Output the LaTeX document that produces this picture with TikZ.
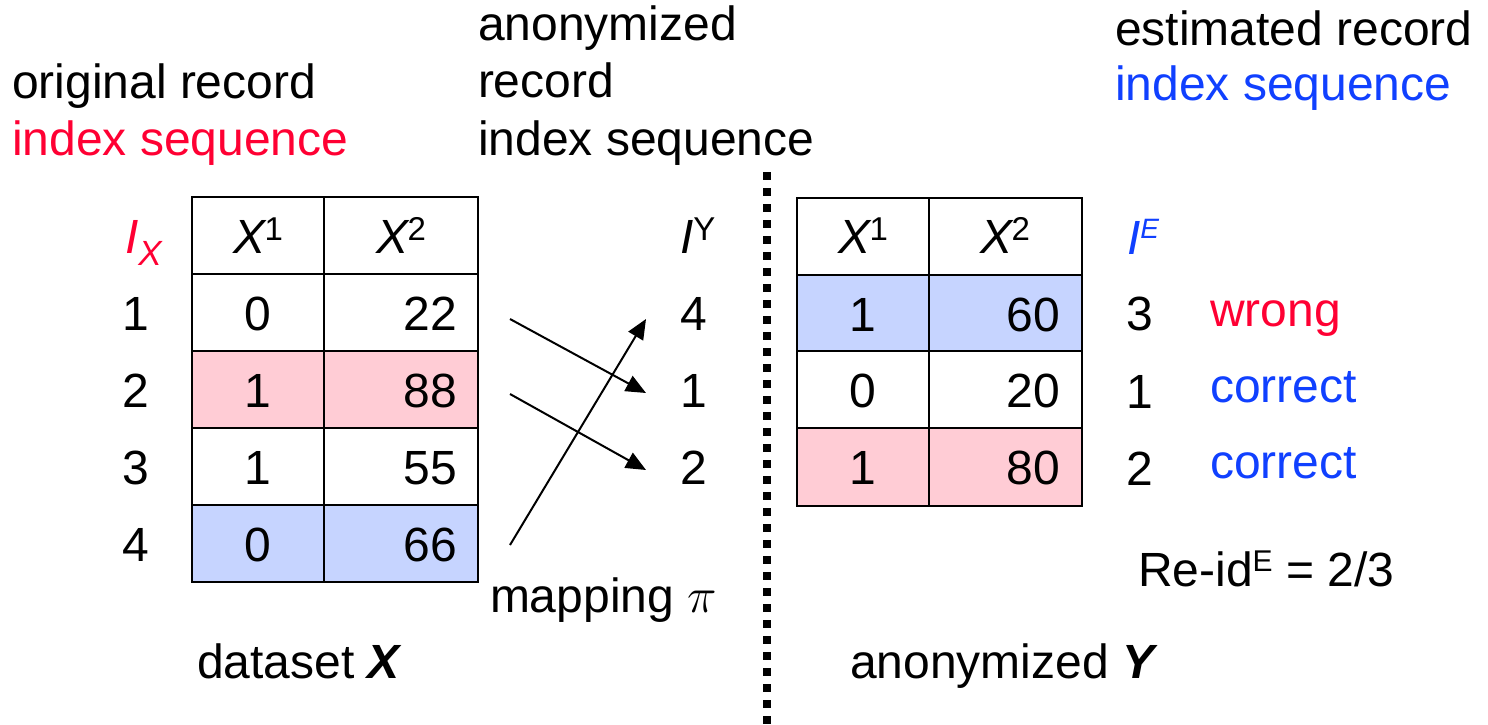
\documentclass[tikz,border=0pt]{standalone}
\usepackage{fontspec}
\setmainfont{Liberation Sans}
\usetikzlibrary{arrows.meta}
\definecolor{idxred}{HTML}{FF0033}
\definecolor{idxblue}{HTML}{1040FF}
\definecolor{cellpink}{HTML}{FFCCD5}
\definecolor{cellblue}{HTML}{C6D4FF}
\newcommand\supfont{\fontsize{16.5}{17}\selectfont}
\newcommand\subfont{\fontsize{17.5}{18}\selectfont}
\newcommand\tinysup{\fontsize{14}{14}\selectfont}
\newcommand\reidsup{\fontsize{15}{15}\selectfont}
\begin{document}
\begin{tikzpicture}[x=0.5pt,y=-0.5pt,
  txt/.style={inner sep=0pt, outer sep=0pt, font=\fontsize{24}{28.5}\selectfont},
  gridline/.style={line width=1.3pt},
  maparrow/.style={line width=1pt, -{Triangle[length=10pt,width=8.5pt]}},
  divider/.style={line width=4pt, dash pattern=on 4pt off 4pt}]
\useasboundingbox[fill=white] (0,0) rectangle (1488,724);

% ---------- headings ----------
\node[txt, anchor=base west] (origA) at (12,98) {original record};
\node[txt, anchor=base west, text=idxred] (origB) at (12,155) {index sequence};
\node[txt, anchor=base west] (anonA) at (478,40) {anonymized};
\node[txt, anchor=base west] (anonB) at (478,97) {record};
\node[txt, anchor=base west] (anonC) at (478,155) {index sequence};
\node[txt, anchor=base west] (estA) at (1115,45) {estimated record};
\node[txt, anchor=base west, text=idxblue] (estB) at (1115,100) {index sequence};

% ---------- left table ----------
\fill[cellpink] (192,351) rectangle (478,428);
\fill[cellblue] (192,505) rectangle (478,582);
\draw[gridline] (192,197) rectangle (478,582);
\foreach \yy in {274,351,428,505} \draw[gridline] (192,\yy) -- (478,\yy);
\draw[gridline] (324,197) -- (324,582);

\node[txt, anchor=base] (lh1) at (258,253) {\textit{X}\kern-1pt\raisebox{6.5pt}{\supfont 1}};
\node[txt, anchor=base] (lh2) at (401,253) {\textit{X}\kern-1pt\raisebox{6.5pt}{\supfont 2}};
\node[txt, anchor=base west, text=idxred] (lix) at (125,253) {\textit{I}\raisebox{-6pt}{\subfont\textit{X}}};

\node[txt, anchor=base] (li1) at (136,330) {1};
\node[txt, anchor=base] (li2) at (136,407) {2};
\node[txt, anchor=base] (li3) at (136,484) {3};
\node[txt, anchor=base] (li4) at (136,561) {4};

\node[txt, anchor=base] (la1) at (258,330) {0};
\node[txt, anchor=base] (la2) at (258,407) {1};
\node[txt, anchor=base] (la3) at (258,484) {1};
\node[txt, anchor=base] (la4) at (258,561) {0};
\node[txt, anchor=base east] (lb1) at (457,330) {22};
\node[txt, anchor=base east] (lb2) at (457,407) {88};
\node[txt, anchor=base east] (lb3) at (457,484) {55};
\node[txt, anchor=base east] (lb4) at (457,561) {66};

\node[txt, anchor=base west] (dsx) at (197,678) {dataset \textbf{\textit{X}}};

% ---------- mapping ----------
\node[txt, anchor=base west] (iy) at (680,253) {\textit{I}\raisebox{6.5pt}{\supfont Y}};
\node[txt, anchor=base] (m4) at (694,330) {4};
\node[txt, anchor=base] (m1) at (694,407) {1};
\node[txt, anchor=base] (m2) at (694,484) {2};

\coordinate (a1s) at (510,319); \coordinate (a1e) at (646,393);
\coordinate (a2s) at (510,394); \coordinate (a2e) at (646,470);
\coordinate (a3s) at (510,545); \coordinate (a3e) at (646,319);
\draw[maparrow] (a1s) -- (a1e);
\draw[maparrow] (a2s) -- (a2e);
\draw[maparrow] (a3s) -- (a3e);

\node[txt, anchor=base west] (mpi) at (490,612) {mapping $\pi$};

% ---------- divider ----------
\coordinate (dtop) at (767,172);
\coordinate (dbot) at (767,724);
\draw[divider] (dtop) -- (dbot);

% ---------- right table ----------
\fill[cellblue] (797,275) rectangle (1082,351);
\fill[cellpink] (797,428) rectangle (1082,506);
\draw[gridline] (797,198) rectangle (1082,506);
\foreach \yy in {275,351,428} \draw[gridline] (797,\yy) -- (1082,\yy);
\draw[gridline] (929,198) -- (929,506);

\node[txt, anchor=base] (rh1) at (863,253) {\textit{X}\kern-1pt\raisebox{6.5pt}{\supfont 1}};
\node[txt, anchor=base] (rh2) at (1005,253) {\textit{X}\kern-1pt\raisebox{6.5pt}{\supfont 2}};

\node[txt, anchor=base] (ra1) at (863,331) {1};
\node[txt, anchor=base] (ra2) at (863,407) {0};
\node[txt, anchor=base] (ra3) at (863,484) {1};
\node[txt, anchor=base east] (rb1) at (1060,331) {60};
\node[txt, anchor=base east] (rb2) at (1060,407) {20};
\node[txt, anchor=base east] (rb3) at (1060,484) {80};

\node[txt, anchor=base west, text=idxblue] (ie) at (1127,254) {\textit{I}\raisebox{8pt}{\tinysup\textit{E}}};
\node[txt, anchor=base] (e3) at (1140,330) {3};
\node[txt, anchor=base] (e1) at (1140,408) {1};
\node[txt, anchor=base] (e2) at (1140,485) {2};
\node[txt, anchor=base west, text=idxred] (w1) at (1210,326) {wrong};
\node[txt, anchor=base west, text=idxblue] (c1) at (1210,402) {correct};
\node[txt, anchor=base west, text=idxblue] (c2) at (1210,478) {correct};

\node[txt, anchor=base west] (reid) at (1138,586) {Re-id\raisebox{7.5pt}{\reidsup E} = 2/3};
\node[txt, anchor=base west] (any) at (850,678) {anonymized \textbf{\textit{Y}}};
\end{tikzpicture}
\end{document}
